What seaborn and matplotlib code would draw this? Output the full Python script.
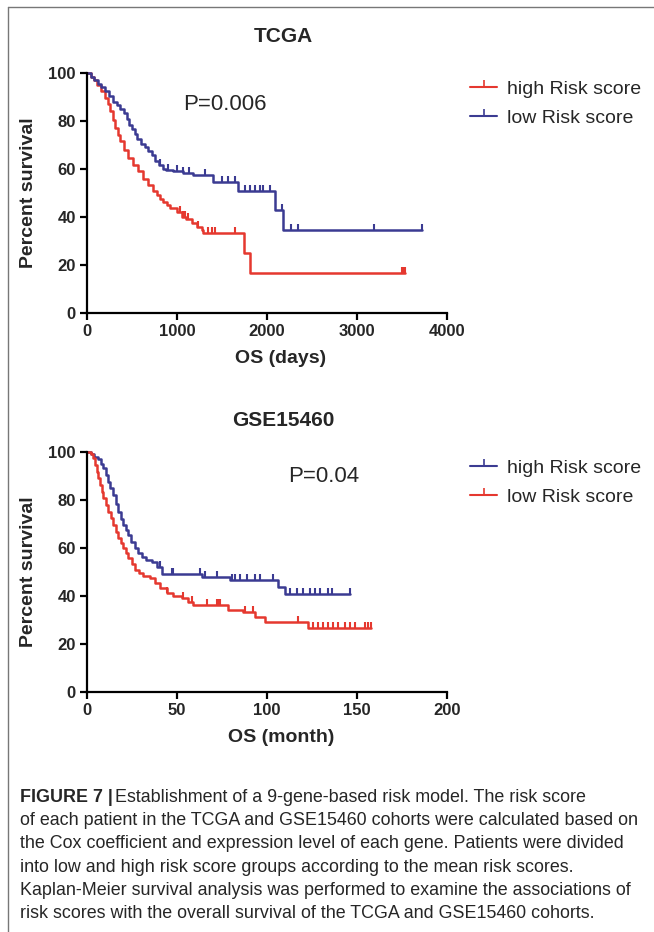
import numpy as np
import matplotlib
matplotlib.use('Agg')
import matplotlib.pyplot as plt
from matplotlib.lines import Line2D
import seaborn as sns

# TCGA cohort (days), Kaplan-Meier steps
tcga_high_t = [0, 40, 80, 110, 150, 200, 230, 256, 285, 311, 340, 367, 410, 459, 510, 570,
               620, 681, 730, 774, 810, 848, 885, 922, 1000, 1052, 1100, 1163, 1220, 1274,
               1293, 1745, 1810]
tcga_high_s = [100, 98.5, 97, 95, 92.5, 89.5, 87, 84, 80.5, 77, 74, 71.5, 68, 64.5, 61.5, 59,
               56, 53.3, 51, 49.2, 47.5, 46.4, 45, 43.6, 42.2, 40.1, 39.2, 37.4, 36, 34.6,
               33.2, 25, 16.7]
tcga_high_cens = [1033, 1070, 1089, 1126, 1237, 1348, 1385, 1422, 1644, 3505, 3515, 3525, 3533]

tcga_low_t = [0, 40, 80, 120, 160, 200, 240, 290, 330, 370, 410, 440, 470, 500, 530, 560,
              600, 640, 680, 720, 760, 800, 840, 880, 960, 1070, 1180, 1404, 1681, 2089, 2181]
tcga_low_s = [100, 98.5, 97, 95.5, 94, 92.5, 90.5, 88, 86.5, 85, 83.5, 81, 78.5, 76.5, 74.5,
              72.5, 70.5, 69, 67.5, 66, 63.5, 61.5, 60, 59.5, 59, 58.3, 57.5, 54.7, 51, 43, 34.6]
tcga_low_cens = [811, 903, 1000, 1070, 1130, 1311, 1496, 1570, 1644, 1756, 1811, 1870, 1922,
                 1960, 2033, 2163, 2263, 2348, 3192, 3719]

# GSE15460 cohort (months)
gse_high_t = [0, 2, 4, 6.3, 8, 9.1, 10.5, 11.8, 13, 14.6, 16, 17.4, 19, 20.2, 21.5, 22.9,
              24.5, 26.7, 28.5, 30.4, 33, 35.9, 38.7, 41.5, 63.7, 79.4, 106.3, 110]
gse_high_s = [100, 99, 98, 97, 95, 93.2, 90.5, 87.6, 85, 82.1, 78.5, 75.1, 72, 69.6, 67.5,
              65.4, 62.5, 59.9, 58, 56.4, 55.2, 54.2, 52.1, 49.3, 47.9, 46.5, 43.75, 41]
gse_high_cens = [40.6, 47, 48, 62.8, 65.6, 72, 80.4, 82.2, 85, 88.7, 93.3, 96.1, 103.5,
                 112.8, 116.5, 120.2, 123.9, 126.7, 129.4, 134, 135.9, 146.1]

gse_low_t = [0, 2, 3.5, 4.5, 5.4, 6.3, 7.2, 8.2, 9.1, 10.5, 11.8, 13.2, 14.6, 16, 17.4, 18.8,
             20.2, 21.5, 22.9, 24.8, 26.7, 29, 31, 35, 37.8, 40.6, 44.3, 48, 52.6, 56, 59.1,
             78.5, 86.9, 93.5, 99, 123]
gse_low_s = [100, 99, 97.4, 94.5, 91.8, 89, 86.3, 83.5, 80.7, 78, 75.1, 72.3, 69.6, 66.8,
             64, 62, 59.9, 57.8, 55.7, 53.2, 50.8, 49.5, 48.5, 47.4, 45.3, 43.2, 41.1, 40,
             39, 37.5, 36.25, 34.2, 33.2, 31.3, 29, 26.5]
gse_low_cens = [44.3, 53.5, 58.2, 66.5, 72, 72.9, 73.9, 87.8, 92.4, 117.4, 125.7, 128.5,
                131.3, 134, 136.8, 139.6, 143.3, 146.1, 148.9, 154.4, 156.3, 158]

caption_lines = [
    "Establishment of a 9-gene-based risk model. The risk score",
    "of each patient in the TCGA and GSE15460 cohorts were calculated based on",
    "the Cox coefficient and expression level of each gene. Patients were divided",
    "into low and high risk score groups according to the mean risk scores.",
    "Kaplan-Meier survival analysis was performed to examine the associations of",
    "risk scores with the overall survival of the TCGA and GSE15460 cohorts.",
]

RED = '#e5382f'
BLUE = '#3b3b92'

sns.set_style('ticks')
plt.rcParams['font.family'] = ['Liberation Sans', 'DejaVu Sans']

W, H = 654, 932
fig = plt.figure(figsize=(W / 100, H / 100), dpi=100)


def fx(px):
    return px / W


def fy(py):
    return 1 - py / H


def km(ax, t, s, cens, color):
    t = list(t)
    s = list(s)
    end = max(cens)
    if end > t[-1]:
        t.append(end)
        s.append(s[-1])
    sns.lineplot(x=t, y=s, drawstyle='steps-post', color=color, lw=1.8,
                 estimator=None, sort=False, ax=ax, clip_on=False)
    idx = np.searchsorted(t, cens, side='right') - 1
    cy = np.array(s)[idx]
    sns.scatterplot(x=cens, y=cy, marker=2, s=20, color=color, linewidth=1.5,
                    ax=ax, clip_on=False, zorder=3)


def style_axes(ax, xmax, xstep, title, title_y, xlabel, ptext, ptx, pty):
    ax.set_xlim(0, xmax)
    ax.set_ylim(0, 100)
    ax.set_xticks(np.arange(0, xmax + 1, xstep))
    ax.set_yticks(np.arange(0, 101, 20))
    sns.despine(ax=ax)
    for sp in ['left', 'bottom']:
        ax.spines[sp].set_linewidth(1.6)
        ax.spines[sp].set_color('black')
    ax.tick_params(width=1.6, length=5, labelsize=12, color='black', pad=3)
    for lab in ax.get_xticklabels() + ax.get_yticklabels():
        lab.set_fontweight('bold')
    ax.set_xlabel(xlabel, fontsize=14, fontweight='bold')
    ax.xaxis.set_label_coords((281 - 87) / 360, -0.155)
    ax.set_ylabel('Percent survival', fontsize=14, fontweight='bold', labelpad=8)
    fig.text(fx(283), fy(title_y), title, fontsize=15, fontweight='bold',
             ha='center', va='center')
    ax.text(ptx, pty, ptext, fontsize=16, ha='left', va='center')


def add_legend(ax, colors, top_px):
    handles = [Line2D([], [], color=c, lw=1.5, marker=2, ms=5, mew=1.2) for c in colors]
    ax.legend(handles, ['high Risk score', 'low Risk score'], loc='upper left',
              bbox_to_anchor=(fx(470), fy(top_px)), bbox_transform=fig.transFigure,
              frameon=False, fontsize=14, handlelength=1.4, handletextpad=0.5,
              labelspacing=0.62, borderpad=0, borderaxespad=0)


# TCGA panel
ax1 = fig.add_axes([fx(87), fy(313), fx(360), 240 / H])
km(ax1, tcga_high_t, tcga_high_s, tcga_high_cens, RED)
km(ax1, tcga_low_t, tcga_low_s, tcga_low_cens, BLUE)
style_axes(ax1, 4000, 1000, 'TCGA', 37, 'OS (days)', 'P=0.006', 1070, 87)
add_legend(ax1, [RED, BLUE], 80)

# GSE15460 panel
ax2 = fig.add_axes([fx(87), fy(692), fx(360), 240 / H])
km(ax2, gse_high_t, gse_high_s, gse_high_cens, BLUE)
km(ax2, gse_low_t, gse_low_s, gse_low_cens, RED)
style_axes(ax2, 200, 50, 'GSE15460', 420, 'OS (month)', 'P=0.04', 112, 90)
add_legend(ax2, [BLUE, RED], 459)

# caption
t0 = fig.text(fx(20), fy(797), 'FIGURE 7 |', fontsize=12.9, fontweight='bold',
              va='center', ha='left')
fig.canvas.draw()
bb = t0.get_window_extent()
fig.text(bb.x1 / W + 0.004, fy(797), caption_lines[0], fontsize=12.9, va='center', ha='left')
for i, line in enumerate(caption_lines[1:]):
    fig.text(fx(20), fy(797 + 23.4 * (i + 1)), line, fontsize=12.9, va='center', ha='left')

# page border
fig.add_artist(Line2D([fx(8), 1], [fy(7), fy(7)], color='#777777', lw=1))
fig.add_artist(Line2D([fx(8), fx(8)], [fy(7), 0], color='#777777', lw=1))

fig.savefig('out.png', dpi=100)
